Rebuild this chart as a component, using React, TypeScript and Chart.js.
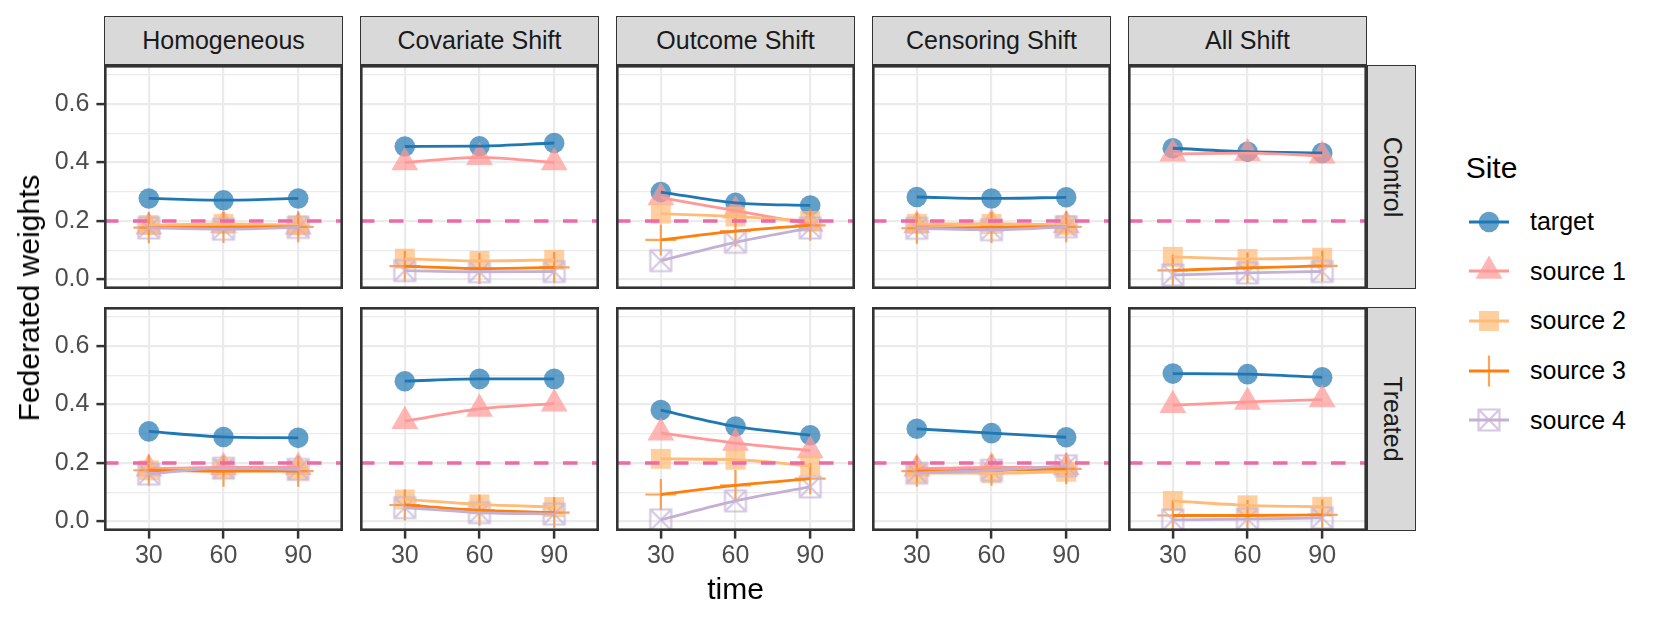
import React, { useEffect, useRef } from "react";
import { Chart, registerables } from "chart.js";
Chart.register(...registerables);

const FONT = '"Liberation Sans", Arial, Helvetica, sans-serif';

// ---------- data ----------
const facets = ["Homogeneous", "Covariate Shift", "Outcome Shift", "Censoring Shift", "All Shift"];
const arms = ["Control", "Treated"];
const times = [30, 60, 90];
const sites = ["target", "source 1", "source 2", "source 3", "source 4"];
const siteColors = ["#1F77B4", "#FF9896", "#FFBB78", "#FF7F0E", "#C5B0D5"];
const referenceWeight = 0.2;
const yTickValues = [0, 0.1, 0.2, 0.3, 0.4, 0.5, 0.6, 0.7];
const yMajorTicks = [0, 0.2, 0.4, 0.6];

// one row per facet (Homogeneous, Covariate, Outcome, Censoring, All), values at time 30, 60, 90
const controlTarget = [
  [0.277, 0.271, 0.277],
  [0.455, 0.456, 0.467],
  [0.299, 0.262, 0.253],
  [0.282, 0.277, 0.281],
  [0.449, 0.437, 0.433],
];
const controlSource1 = [
  [0.18, 0.185, 0.18],
  [0.4, 0.418, 0.4],
  [0.28, 0.235, 0.19],
  [0.185, 0.19, 0.185],
  [0.43, 0.432, 0.423],
];
const controlSource2 = [
  [0.186, 0.19, 0.185],
  [0.071, 0.063, 0.067],
  [0.225, 0.215, 0.2],
  [0.19, 0.19, 0.185],
  [0.077, 0.07, 0.074],
];
const controlSource3 = [
  [0.177, 0.178, 0.18],
  [0.045, 0.037, 0.041],
  [0.135, 0.165, 0.185],
  [0.175, 0.178, 0.18],
  [0.031, 0.039, 0.046],
];
const controlSource4 = [
  [0.176, 0.172, 0.178],
  [0.03, 0.026, 0.027],
  [0.064, 0.127, 0.176],
  [0.175, 0.17, 0.18],
  [0.015, 0.022, 0.027],
];
const treatedTarget = [
  [0.308, 0.289, 0.286],
  [0.48, 0.488, 0.488],
  [0.381, 0.325, 0.295],
  [0.317, 0.302, 0.288],
  [0.506, 0.504, 0.493],
];
const treatedSource1 = [
  [0.18, 0.185, 0.185],
  [0.343, 0.385, 0.403],
  [0.303, 0.268, 0.243],
  [0.18, 0.185, 0.185],
  [0.398, 0.409, 0.417],
];
const treatedSource2 = [
  [0.175, 0.18, 0.175],
  [0.075, 0.058, 0.049],
  [0.214, 0.211, 0.19],
  [0.165, 0.165, 0.17],
  [0.07, 0.055, 0.05],
];
const treatedSource3 = [
  [0.175, 0.172, 0.172],
  [0.056, 0.038, 0.03],
  [0.092, 0.123, 0.146],
  [0.172, 0.175, 0.18],
  [0.02, 0.02, 0.022],
];
const treatedSource4 = [
  [0.162, 0.182, 0.178],
  [0.047, 0.03, 0.025],
  [0.005, 0.07, 0.118],
  [0.165, 0.175, 0.19],
  [0.005, 0.008, 0.012],
];

const seriesByArm = [
  [controlTarget, controlSource1, controlSource2, controlSource3, controlSource4],
  [treatedTarget, treatedSource1, treatedSource2, treatedSource3, treatedSource4],
];

// ---------- layout ----------
const X_MIN = 12;
const X_MAX = 108;
const Y_MIN = -0.033;
const Y_MAX = 0.734;
const PANEL_W = 239;
const PANEL_H = 224;
const COL_LEFT0 = 104;
const COL_STEP = 256;
const ROW_TOPS = [65, 307];
const Y_AXIS_W = 60;
const X_AXIS_H = 45;
const STRIP_TOP = 16;
const STRIP_SIZE = 49;
const RIGHT_STRIP_LEFT = COL_LEFT0 + 4 * COL_STEP + PANEL_W;

const GRID = "#EBEBEB";
const DARK = "#333333";
const REF_COLOR = "#EE6AA7";

function rgba(hex: string, a: number) {
  const n = parseInt(hex.slice(1), 16);
  return `rgba(${(n >> 16) & 255},${(n >> 8) & 255},${n & 255},${a})`;
}
const isMajor = (v: number) => yMajorTicks.some((m) => Math.abs(m - v) < 1e-9);

function makeSquareCross(color: string) {
  const s = 26;
  const c = document.createElement("canvas");
  c.width = s;
  c.height = s;
  const g = c.getContext("2d")!;
  const h = 10.5;
  const m = s / 2;
  g.strokeStyle = color;
  g.lineWidth = 2.2;
  g.beginPath();
  g.rect(m - h, m - h, 2 * h, 2 * h);
  g.moveTo(m - h, m - h);
  g.lineTo(m + h, m + h);
  g.moveTo(m + h, m - h);
  g.lineTo(m - h, m + h);
  g.stroke();
  return c;
}

const borderPlugin = {
  id: "panelBorder",
  afterDraw(chart: any) {
    const { ctx, chartArea: a } = chart;
    const lw = 2.6;
    ctx.save();
    ctx.strokeStyle = DARK;
    ctx.lineWidth = lw;
    ctx.strokeRect(a.left + lw / 2, a.top + lw / 2, a.right - a.left - lw, a.bottom - a.top - lw);
    ctx.restore();
  },
};

function zeroPadding(s: any) {
  s.paddingTop = 0;
  s.paddingBottom = 0;
  s.paddingLeft = 0;
  s.paddingRight = 0;
}

function Panel({ col, row }: { col: number; row: number }) {
  const ref = useRef<HTMLCanvasElement>(null);
  const isLeft = col === 0;
  const isBottom = row === 1;
  const left = COL_LEFT0 + col * COL_STEP - (isLeft ? Y_AXIS_W : 0);
  const top = ROW_TOPS[row];
  const width = PANEL_W + (isLeft ? Y_AXIS_W : 0);
  const height = PANEL_H + (isBottom ? X_AXIS_H : 0);

  useEffect(() => {
    const pointStyles: any[] = ["circle", "triangle", "rect", "cross", makeSquareCross(rgba(siteColors[4], 0.7))];
    const pointRadii = [10.3, 15.5, 14.1, 15.5, 10];
    const datasets: any[] = [];
    sites.forEach((site, k) => {
      const vals = seriesByArm[row][k][col];
      const data = times.map((t, i) => ({ x: t, y: vals[i] }));
      const c = siteColors[k];
      const isCross = k === 3;
      datasets.push({
        label: site + " points",
        data,
        showLine: false,
        pointStyle: pointStyles[k],
        pointRadius: pointRadii[k],
        pointBackgroundColor: rgba(c, 0.7),
        pointBorderColor: isCross ? rgba(c, 0.7) : "rgba(0,0,0,0)",
        pointBorderWidth: isCross ? 2.2 : 0,
        order: 30 - k,
      });
      datasets.push({
        label: site,
        data,
        borderColor: c,
        borderWidth: 2.8,
        pointRadius: 0,
        cubicInterpolationMode: "monotone",
        fill: false,
        order: 20 - k,
      });
    });
    datasets.push({
      label: "reference",
      data: [
        { x: X_MIN, y: referenceWeight },
        { x: X_MAX, y: referenceWeight },
      ],
      borderColor: REF_COLOR,
      borderWidth: 3.6,
      borderDash: [14.5, 14.5],
      pointRadius: 0,
      order: 0,
    });

    const tickFont = { family: FONT, size: 25 };
    const chart = new Chart(ref.current!, {
      type: "line",
      data: { datasets },
      plugins: [borderPlugin],
      options: {
        animation: false,
        responsive: false,
        maintainAspectRatio: false,
        events: [],
        layout: { padding: 0, autoPadding: false },
        plugins: { legend: { display: false }, tooltip: { enabled: false } },
        scales: {
          x: {
            type: "linear",
            min: X_MIN,
            max: X_MAX,
            afterBuildTicks: (s: any) => {
              s.ticks = times.map((v) => ({ value: v }));
            },
            afterFit: (s: any) => {
              s.height = isBottom ? X_AXIS_H : 0;
              zeroPadding(s);
            },
            border: { display: false },
            grid: {
              color: GRID,
              lineWidth: 2.2,
              drawTicks: isBottom,
              tickLength: 7.6,
              tickColor: DARK,
              tickWidth: 2.5,
            },
            ticks: {
              display: isBottom,
              color: "#4D4D4D",
              font: tickFont,
              padding: 3,
              maxRotation: 0,
              autoSkip: false,
            },
          },
          y: {
            type: "linear",
            min: Y_MIN,
            max: Y_MAX,
            afterBuildTicks: (s: any) => {
              s.ticks = yTickValues.map((v) => ({ value: v }));
            },
            afterFit: (s: any) => {
              s.width = isLeft ? Y_AXIS_W : 0;
              zeroPadding(s);
            },
            border: { display: false },
            grid: {
              color: GRID,
              lineWidth: (ctx: any) => (isMajor(ctx.tick.value) ? 2.2 : 1.2),
              drawTicks: isLeft,
              tickLength: 7.6,
              tickColor: (ctx: any) => (isMajor(ctx.tick.value) ? DARK : "rgba(0,0,0,0)"),
              tickWidth: 2.5,
            },
            ticks: {
              display: isLeft,
              color: "#4D4D4D",
              font: tickFont,
              padding: 7,
              autoSkip: false,
              callback: (v: any) => (isMajor(Number(v)) ? Number(v).toFixed(1) : ""),
            },
          },
        },
      } as any,
    });
    return () => chart.destroy();
  }, [col, row]);

  return (
    <canvas
      ref={ref}
      width={width}
      height={height}
      style={{ position: "absolute", left, top, width, height }}
    />
  );
}

function LegendKey({ k }: { k: number }) {
  const c = siteColors[k];
  const fill = rgba(c, 0.7);
  let shape: any = null;
  if (k === 0) shape = <circle cx={20} cy={20} r={10.3} fill={fill} />;
  if (k === 1) shape = <polygon points="20,4.5 6.58,27.75 33.42,27.75" fill={fill} />;
  if (k === 2) shape = <rect x={10} y={10} width={20} height={20} fill={fill} />;
  if (k === 3)
    shape = (
      <path d="M20 4.5 L20 35.5 M4.5 20 L35.5 20" stroke={fill} strokeWidth={2.2} fill="none" />
    );
  if (k === 4)
    shape = (
      <path
        d="M9.5 9.5 L30.5 9.5 L30.5 30.5 L9.5 30.5 Z M9.5 9.5 L30.5 30.5 M30.5 9.5 L9.5 30.5"
        stroke={fill}
        strokeWidth={2.2}
        fill="none"
      />
    );
  return (
    <svg width={40} height={40} style={{ display: "block" }}>
      {shape}
      <line x1={0} x2={40} y1={20} y2={20} stroke={c} strokeWidth={2.8} />
    </svg>
  );
}

export default function App() {
  const legendRows = [221.7, 271.3, 320.9, 370.5, 420.1];
  return (
    <div
      style={{
        position: "absolute",
        left: 0,
        top: 0,
        width: 1661,
        height: 623,
        background: "#ffffff",
        fontFamily: FONT,
        overflow: "hidden",
      }}
    >
      {/* top strips */}
      {facets.map((f, i) => (
        <div
          key={f}
          style={{
            position: "absolute",
            left: COL_LEFT0 + i * COL_STEP,
            top: STRIP_TOP,
            width: PANEL_W,
            height: STRIP_SIZE,
            boxSizing: "border-box",
            background: "#D9D9D9",
            border: `1.5px solid ${DARK}`,
            display: "flex",
            alignItems: "center",
            justifyContent: "center",
            fontSize: 25,
            color: "#1A1A1A",
            lineHeight: 1,
            whiteSpace: "nowrap",
          }}
        >
          {f}
        </div>
      ))}
      {/* right strips */}
      {arms.map((a, r) => (
        <div
          key={a}
          style={{
            position: "absolute",
            left: RIGHT_STRIP_LEFT,
            top: ROW_TOPS[r],
            width: STRIP_SIZE,
            height: PANEL_H,
            boxSizing: "border-box",
            background: "#D9D9D9",
            border: `1.5px solid ${DARK}`,
          }}
        >
          <div
            style={{
              position: "absolute",
              left: "50%",
              top: "50%",
              transform: "translate(-50%, -50%) rotate(90deg)",
              fontSize: 25,
              color: "#1A1A1A",
              lineHeight: 1,
              whiteSpace: "nowrap",
            }}
          >
            {a}
          </div>
        </div>
      ))}
      {/* panels */}
      {arms.map((_, r) => facets.map((__, c) => <Panel key={`${r}-${c}`} col={c} row={r} />))}
      {/* y axis title */}
      <div
        style={{
          position: "absolute",
          left: 28.5,
          top: 298,
          transform: "translate(-50%, -50%) rotate(-90deg)",
          fontSize: 30,
          lineHeight: 1,
          color: "#000",
          whiteSpace: "nowrap",
        }}
      >
        Federated weights
      </div>
      {/* x axis title */}
      <div
        style={{
          position: "absolute",
          left: (COL_LEFT0 + RIGHT_STRIP_LEFT) / 2,
          top: 589,
          transform: "translate(-50%, -50%)",
          fontSize: 30,
          lineHeight: 1,
          color: "#000",
          whiteSpace: "nowrap",
        }}
      >
        time
      </div>
      {/* legend */}
      <div
        style={{
          position: "absolute",
          left: 1465.7,
          top: 152.6,
          fontSize: 30,
          lineHeight: "30px",
          color: "#000",
          whiteSpace: "nowrap",
        }}
      >
        Site
      </div>
      {sites.map((s, k) => (
        <React.Fragment key={s}>
          <div style={{ position: "absolute", left: 1469, top: legendRows[k] - 20 }}>
            <LegendKey k={k} />
          </div>
          <div
            style={{
              position: "absolute",
              left: 1530,
              top: legendRows[k] - 12.5,
              fontSize: 25,
              lineHeight: "25px",
              color: "#000",
              whiteSpace: "nowrap",
            }}
          >
            {s}
          </div>
        </React.Fragment>
      ))}
    </div>
  );
}
